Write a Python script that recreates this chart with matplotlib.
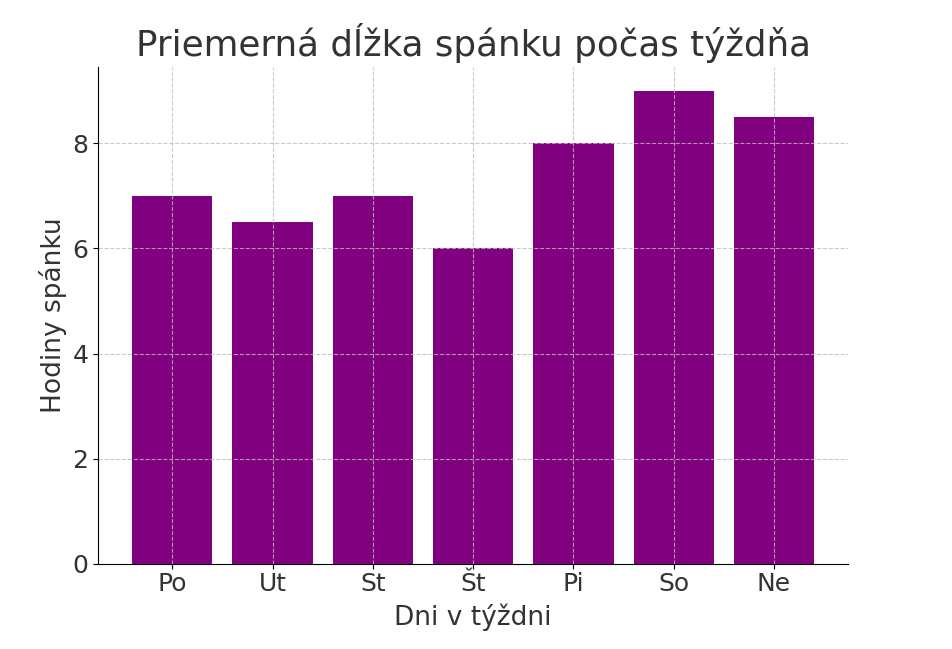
import matplotlib
matplotlib.use('Agg')
import matplotlib.pyplot as plt

# údaje
dni = ['Po', 'Ut', 'St', 'Št', 'Pi', 'So', 'Ne']
hodiny = [7, 6.5, 7, 6, 8, 9, 8.5]

fig = plt.figure(figsize=(9.52, 6.49), dpi=100)
ax = fig.add_axes([0.103, 0.131, 0.788, 0.766])

ax.bar(dni, hodiny, color='purple', width=0.8)
ax.set_title('Priemerná dĺžka spánku počas týždňa', fontsize=25.7, color='#333333', pad=8)
ax.set_xlabel('Dni v týždni', fontsize=19, color='#333333', labelpad=6)
ax.set_ylabel('Hodiny spánku', fontsize=19, color='#333333')
ax.tick_params(labelsize=18, labelcolor='#333333')
ax.tick_params(axis='x', pad=2)
ax.grid(True, linestyle='--', color='#bbbbbb', alpha=0.8)
ax.spines['top'].set_visible(False)
ax.spines['right'].set_visible(False)

plt.savefig('out.png', dpi=100)
